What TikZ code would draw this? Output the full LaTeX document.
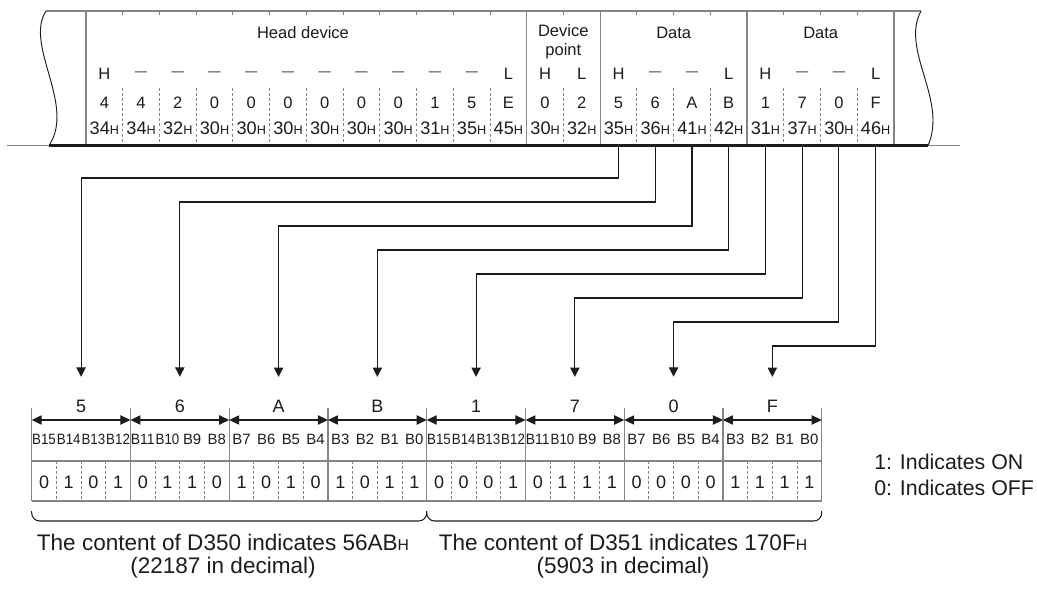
\documentclass[tikz,border=0pt]{standalone}
\usepackage{fontspec}
\setmainfont{Liberation Sans}
\usepackage{xcolor}
\usepackage{graphicx}
\usetikzlibrary{arrows.meta, positioning}

\definecolor{framegray}{HTML}{858585}
\definecolor{inkgray}{HTML}{1c1c1c}

% squeeze the wide bit names into their cell
\newcommand\bitfit[1]{\sbox0{#1}\ifdim\wd0>17.8pt\resizebox{17.8pt}{\height}{#1}\else#1\fi}
\newcommand\hexsuf{{\fontsize{9.5}{10}\selectfont H}}

\begin{document}
\begin{tikzpicture}[x=0.75pt, y=-0.75pt,
    txt/.style={inner sep=0pt, text=inkgray, font=\fontsize{12.4}{14.25}\selectfont},
    hexcell/.style={txt, font=\fontsize{13.6}{15}\selectfont},
    nib/.style={txt, font=\fontsize{13.5}{16}\selectfont},
    bitname/.style={txt, font=\fontsize{11.2}{12}\selectfont},
    note/.style={txt, font=\fontsize{16.9}{17.25}\selectfont, align=center},
    rim/.style={draw=framegray, line width=1pt},
    divider/.style={draw=framegray, line width=0.7pt, dash pattern=on 2.2pt off 1.6pt},
    conn/.style={draw=inkgray, line width=0.8pt, -{Triangle[width=7pt,length=7pt]}},
    span/.style={draw=inkgray, line width=0.8pt, {Triangle[width=7pt,length=7.5pt]}-{Triangle[width=7pt,length=7.5pt]}},
    brace/.style={draw=inkgray, line width=0.8pt, rounded corners=6pt}
]
    \useasboundingbox (0,0) rectangle (1037,588);

    % Frame
    \draw[framegray, line width=1.2pt] (46,11) -- (921,11);
    \draw[framegray, line width=1pt] (7,145.5) -- (49,145.5) (928,145.5) -- (960,145.5);
    \draw[inkgray, line width=0.7pt] (46,11) .. controls (24,45) and (76,105) .. (49,145.5);
    \draw[inkgray, line width=0.7pt] (921,11) .. controls (900,50) and (948,100) .. (928,145.5);
    \foreach \i in {1,2,3,4,5,6,7,8,9,10,11,13,15,16,17,19,20,21} {
        \draw[divider] ({86+36.727*\i},88) -- ({86+36.727*\i},145);
        \draw[framegray, line width=0.7pt] ({86+36.727*\i},11) -- ({86+36.727*\i},15);
    }
    \foreach \i in {0,12,14,18,22}
        \draw[rim] ({86+36.727*\i},11) -- ({86+36.727*\i},145);
    \draw[inkgray, line width=2pt] (49,145.5) -- (928,145.5);

    % Frame texts
    \node[txt] (head) at (303,33) {Head device};
    \node[txt, align=center] (devpt) at (563.3,42) {Device\\point};
    \node[txt] (data1) at (673.7,33) {Data};
    \node[txt] (data2) at (820.7,33) {Data};
    \foreach \s [count=\i from 0] in {H,—,—,—,—,—,—,—,—,—,—,L,H,L,H,—,—,L,H,—,—,L}
        \node[txt] (m\i) at ({104.36+36.727*\i},74) {\if\s—{\fontsize{9.2}{10}\selectfont —}\else\s\fi};
    \foreach \s [count=\i from 0] in {4,4,2,0,0,0,0,0,0,1,5,E,0,2,5,6,A,B,1,7,0,F}
        \node[txt] (d\i) at ({104.36+36.727*\i},103) {\s};
    \foreach \s [count=\i from 0] in {34,34,32,30,30,30,30,30,30,31,35,45,30,32,35,36,41,42,31,37,30,46}
        \node[hexcell] (h\i) at ({104.36+36.727*\i},128) {\s\hexsuf};

    % Bit table
    \foreach \k in {0,...,8} {
        \draw[rim] ({31.7+98.75*\k},408) -- ({31.7+98.75*\k},501);
        \coordinate (s\k) at ({31.7+98.75*\k},420);
    }
    \draw[rim] (31.7,461) -- (821.7,461);
    \draw[rim] (31.7,501) -- (821.7,501);
    \foreach \b in {1,...,31} {
        \pgfmathtruncatemacro\r{mod(\b,4)}
        \ifnum\r>0 \draw[divider] ({31.7+24.6875*\b},461) -- ({31.7+24.6875*\b},501); \fi
    }
    \foreach \s [count=\k from 0] in {5,6,A,B,1,7,0,F}
        \node[nib] (n\k) at ({81.08+98.75*\k},406) {\s};
    \foreach \k [evaluate=\k as \kk using int(\k+1)] in {0,...,7}
        \draw[span] (s\k) -- (s\kk);
    \foreach \s [count=\b from 0] in {B15,B14,B13,B12,B11,B10,B9,B8,B7,B6,B5,B4,B3,B2,B1,B0,
                                      B15,B14,B13,B12,B11,B10,B9,B8,B7,B6,B5,B4,B3,B2,B1,B0}
        \node[bitname] (bn\b) at ({44.04+24.6875*\b},439) {\bitfit{\s}};
    \foreach \s [count=\b from 0] in {0,1,0,1,0,1,1,0,1,0,1,0,1,0,1,1,
                                      0,0,0,1,0,1,1,1,0,0,0,0,1,1,1,1}
        \node[nib] (v\b) at ({44.04+24.6875*\b},482) {\s};

    % Connections
    \foreach \k in {0,...,7} {
        \coordinate (t\k) at ({104.36+36.727*(14+\k)},146);
        \draw[conn] (t\k) -- ++(0,{32+24*\k}) -| ([yshift=17pt]n\k.north);
    }

    % Braces and notes
    \draw[brace] (31.7,511) -- (31.7,521) -- (426.7,521) -- (426.7,511);
    \draw[brace] (426.7,511) -- (426.7,521) -- (821.7,521) -- (821.7,511);
    \node[note] (sum1) at (223,556) {The content of D350 indicates 56AB{\fontsize{11.8}{12}\selectfont H}\\(22187 in decimal)};
    \node[note] (sum2) at (623,556) {The content of D351 indicates 170F{\fontsize{11.8}{12}\selectfont H}\\(5903 in decimal)};
    \node[note, anchor=west, font=\fontsize{16}{17}\selectfont] (on) at (874,462) {1: Indicates ON};
    \node[note, anchor=west, font=\fontsize{16}{17}\selectfont] (off) at (874,488) {0: Indicates OFF};
\end{tikzpicture}
\end{document}
